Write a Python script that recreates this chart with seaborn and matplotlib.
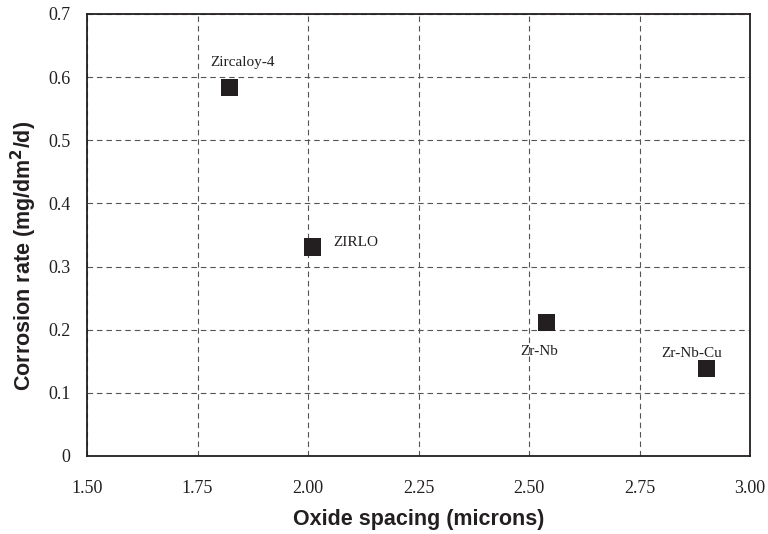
import matplotlib
matplotlib.use('Agg')
import pandas as pd
import matplotlib.pyplot as plt
import seaborn as sns

# values
alloys = ['Zircaloy-4', 'ZIRLO', 'Zr-Nb', 'Zr-Nb-Cu']
oxide_spacing = [1.823, 2.011, 2.540, 2.902]
corrosion_rate = [0.583, 0.331, 0.212, 0.139]
x_ticks = [1.50, 1.75, 2.00, 2.25, 2.50, 2.75, 3.00]
y_ticks = [0, 0.1, 0.2, 0.3, 0.4, 0.5, 0.6, 0.7]

df = pd.DataFrame({'alloy': alloys, 'spacing': oxide_spacing, 'rate': corrosion_rate})

sns.set_style('white')
fig = plt.figure(figsize=(7.68, 5.34), dpi=100)
ax = fig.add_axes([87 / 768, 78 / 534, 663 / 768, 442 / 534])

sns.scatterplot(x='spacing', y='rate', data=df, marker='s', s=150, color='#231f20',
                edgecolor='none', ax=ax, zorder=3)

# label offsets (points) per alloy
offsets = {'Zircaloy-4': (9, 18), 'ZIRLO': (31, 3), 'Zr-Nb': (-5, -21), 'Zr-Nb-Cu': (-11, 10.5)}
for _, row in df.iterrows():
    ax.annotate(row['alloy'], (row['spacing'], row['rate']), xytext=offsets[row['alloy']],
                textcoords='offset points', ha='center', va='center',
                fontsize=11, family='Liberation Serif', color='#231f20')

ax.set_xlim(1.5, 3.0)
ax.set_ylim(0, 0.7)
ax.set_xticks(x_ticks)
ax.set_yticks(y_ticks)
ax.set_xticklabels([f'{t:.2f}' for t in x_ticks], family='Liberation Serif', fontsize=13)
ax.set_yticklabels(['0'] + [f'{t:.1f}' for t in y_ticks[1:]], family='Liberation Serif', fontsize=13)
ax.tick_params(direction='out', length=5, width=1, color='#231f20', labelcolor='#231f20')
ax.tick_params(axis='x', pad=12)
ax.tick_params(axis='y', pad=7)

ax.grid(True, linestyle=(0, (5, 3.5)), color='#555555', linewidth=0.8)
for s in ax.spines.values():
    s.set_color('#231f20')
    s.set_linewidth(1.3)

ax.set_xlabel('Oxide spacing (microns)', fontweight='bold', fontsize=15.5,
              family='Liberation Sans', labelpad=9, color='#231f20')
ax.set_ylabel('Corrosion rate (mg/dm$^\\mathbf{2}$/d)', fontweight='bold', fontsize=15.5,
              family='Liberation Sans', color='#231f20')
ax.yaxis.set_label_coords(-0.072, 0.452)

fig.savefig('out.png', dpi=100)
